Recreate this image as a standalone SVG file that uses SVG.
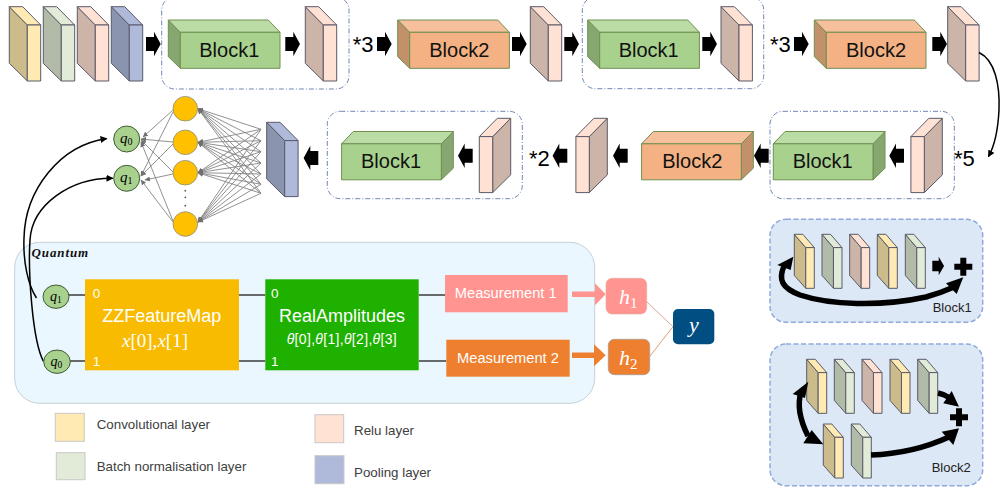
<svg xmlns="http://www.w3.org/2000/svg" width="1001" height="492" viewBox="0 0 1001 492">
<style>
text{font-family:"Liberation Sans",Arial,sans-serif}
.m{font-family:"Liberation Serif","DejaVu Serif",serif;font-style:italic}
.s polygon{stroke:#5a5a68;stroke-width:1;stroke-linejoin:round;vector-effect:non-scaling-stroke}
.b polygon{stroke:#6f8f50;stroke-width:1;stroke-linejoin:round}
.bt{font-size:20px;text-anchor:middle;fill:#111}
.st{font-size:22px;fill:#000}
.d{fill:none;stroke:#5f78ab;stroke-width:.9;stroke-dasharray:5 2 1 2}
.n{stroke:#858585;stroke-width:.9;fill:none;marker-end:url(#sm)}
.o{fill:#ffc000;stroke:#8c8f80;stroke-width:.8}
.q{fill:#a9d18e;stroke:#3d5c34;stroke-width:1}
.cv{fill:none;stroke:#000;stroke-width:1.5;marker-end:url(#bk)}
.th{fill:none;stroke:#000;stroke-width:5.5}
.w{fill:#fff}
.ln{stroke:#3c3c3c;stroke-width:1.3;fill:none}
.lg{font-size:13.33px;fill:#404040}
.sw{stroke:#c9c9c9;stroke-width:1}
.pn{fill:#dce8f5;stroke:#8faadc;stroke-width:1.5;stroke-dasharray:5 2.5}
</style>
<defs>
<marker id="sm" markerWidth="6" markerHeight="6" refX="5" refY="3" orient="auto" markerUnits="userSpaceOnUse"><path d="M0,.5L5.5,3L0,5.5z" fill="#707070"/></marker>
<marker id="bk" markerWidth="9" markerHeight="8" refX="6" refY="3.5" orient="auto" markerUnits="userSpaceOnUse"><path d="M0,0L7,3.5L0,7z" fill="#000"/></marker>
<g id="sc" class="s"><polygon points="0,0 18,18.3 18,74.3 0,56.6" fill="#cdbc8b"/><polygon points="0,0 13.4,0 31.4,18.3 18,18.3" fill="#ffeab3"/><polygon points="18,18.3 31.4,18.3 31.4,74.3 18,74.3" fill="#ffeab3"/></g>
<g id="sg" class="s"><polygon points="0,0 18,18.3 18,74.3 0,56.6" fill="#b2bba8"/><polygon points="0,0 13.4,0 31.4,18.3 18,18.3" fill="#e2ebd7"/><polygon points="18,18.3 31.4,18.3 31.4,74.3 18,74.3" fill="#e2ebd7"/></g>
<g id="sr" class="s"><polygon points="0,0 18,18.3 18,74.3 0,56.6" fill="#ccb5a8"/><polygon points="0,0 13.4,0 31.4,18.3 18,18.3" fill="#ffe2d3"/><polygon points="18,18.3 31.4,18.3 31.4,74.3 18,74.3" fill="#ffe2d3"/></g>
<g id="sp" class="s"><polygon points="0,0 18,18.3 18,74.3 0,56.6" fill="#8b94ae"/><polygon points="0,0 13.4,0 31.4,18.3 18,18.3" fill="#afb9da"/><polygon points="18,18.3 31.4,18.3 31.4,74.3 18,74.3" fill="#afb9da"/></g>
<g id="b1" class="b"><polygon points="0,0 12,12.3 12,48.3 0,36.7" fill="#87a771"/><polygon points="0,0 100,0 111.7,12.3 12,12.3" fill="#bcdca5"/><polygon points="12,12.3 111.7,12.3 111.7,48.3 12,48.3" fill="#a9d18e"/></g>
<g id="b2" class="b"><polygon points="0,0 12,12.3 12,48.3 0,36.7" fill="#c39169"/><polygon points="0,0 100,0 111.7,12.3 12,12.3" fill="#f5c09b"/><polygon points="12,12.3 111.7,12.3 111.7,48.3 12,48.3" fill="#f4b183"/></g>
<path id="ar" d="M0,-7H8V-12.2L14.7,0L8,12.2V7H0z" fill="#000"/>
<path id="pl" d="M-3,-9H3V-3H9V3H3V9H-3V3H-9V-3H-3z" fill="#000"/>
</defs>

<g id="group-boxes">
<rect class="d" x="161.7" y="-3" width="187.3" height="92" rx="13"/>
<rect class="d" x="582.3" y="-3" width="181.4" height="91.7" rx="13"/>
<rect class="d" x="327.3" y="111.3" width="195" height="87.4" rx="13"/>
<rect class="d" x="770" y="111.3" width="184.3" height="87.4" rx="13"/>
</g>

<g id="row1">
<g id="l1"><use href="#sc" x="9.3" y="6.7"/></g>
<g id="l2"><use href="#sg" x="43.3" y="6.7"/></g>
<g id="l3"><use href="#sr" x="77.3" y="6.7"/></g>
<g id="l4"><use href="#sp" x="111.3" y="6.7"/></g>
<g id="block1-a"><use href="#b1" x="168.3" y="20"/><text class="bt" x="229.3" y="57.3">Block1</text></g>
<g id="r1"><use href="#sr" x="305.3" y="6.7"/></g>
<g id="block2-a"><use href="#b2" x="397.7" y="20"/><text class="bt" x="459.3" y="57.3">Block2</text></g>
<g id="r2"><use href="#sr" x="530.3" y="6.7"/></g>
<g id="block1-b"><use href="#b1" x="587.7" y="20"/><text class="bt" x="648.7" y="57.3">Block1</text></g>
<g id="r3"><use href="#sr" x="721" y="6.7"/></g>
<g id="block2-b"><use href="#b2" x="814.3" y="20"/><text class="bt" x="876" y="57.3">Block2</text></g>
<g id="r4"><use href="#sr" x="947.7" y="6.7"/></g>
<text class="st" x="352.7" y="51.7">*3</text>
<text class="st" x="770" y="51.7">*3</text>
</g>

<g id="row2">
<g id="r5"><use href="#sr" transform="translate(942.3,118.3) scale(-1,1)"/></g>
<g id="block1-c"><use href="#b1" transform="translate(885,131.5) scale(-1,1)"/><text class="bt" x="822.7" y="168.3">Block1</text></g>
<g id="block2-c"><use href="#b2" transform="translate(753.3,131.5) scale(-1,1)"/><text class="bt" x="692.3" y="168.3">Block2</text></g>
<g id="r6"><use href="#sr" transform="translate(607.3,118.3) scale(-1,1)"/></g>
<g id="r7"><use href="#sr" transform="translate(510.7,118.3) scale(-1,1)"/></g>
<g id="block1-d"><use href="#b1" transform="translate(453.3,131.5) scale(-1,1)"/><text class="bt" x="391" y="168.3">Block1</text></g>
<g id="pool"><use href="#sp" x="266.7" y="122.3"/></g>
<text class="st" x="954" y="165.7">*5</text>
<text class="st" x="529" y="165.7">*2</text>
</g>

<g id="quantum">
<rect x="14.7" y="242.3" width="580" height="161" rx="25" fill="#ebf7fe" stroke="#c5d0d8"/>
<text x="31.5" y="256.7" font-size="13" font-weight="700" style="font-family:'Liberation Serif',serif;font-style:italic;letter-spacing:.9px" fill="#111">Quantum</text>
</g>

<g id="connectors">
<use href="#ar" x="146" y="44"/><use href="#ar" x="285.3" y="44"/><use href="#ar" x="377" y="44"/><use href="#ar" x="512" y="44"/><use href="#ar" x="564.3" y="44"/><use href="#ar" x="702.3" y="44"/><use href="#ar" x="794" y="44"/><use href="#ar" x="932.3" y="44"/>
<use href="#ar" transform="translate(904,155.7) scale(-1,1)"/><use href="#ar" transform="translate(768.7,155.7) scale(-1,1)"/><use href="#ar" transform="translate(627.7,155.7) scale(-1,1)"/><use href="#ar" transform="translate(567.3,155.7) scale(-1,1)"/><use href="#ar" transform="translate(472.7,155.7) scale(-1,1)"/><use href="#ar" transform="translate(318.3,158) scale(-1,1)"/>
<path class="cv" d="M979,52.5C995,60 1000,85 999,110C998,130 995,145 988.5,156.5"/>
<path class="cv" d="M36.5,298C28,285 23,262 24,238C25,190 60,145 106.5,138.7"/>
<path class="cv" d="M43.5,361.5C32,340 28,270 30,240C32,205 70,178 112.5,178.3"/>
<path class="ln" d="M69,295H85M70,361H85M239,295H265.3M239,361H265.3M418.7,295H445M418.7,361H446.3"/>
<g id="net-lines">
<line class="n" x1="261" y1="129.3" x2="198" y2="108.7"/><line class="n" x1="261" y1="140.7" x2="198" y2="108.7"/><line class="n" x1="261" y1="151.7" x2="198" y2="108.7"/><line class="n" x1="261" y1="163" x2="198" y2="108.7"/><line class="n" x1="261" y1="174" x2="198" y2="108.7"/><line class="n" x1="261" y1="184.3" x2="198" y2="108.7"/><line class="n" x1="261" y1="193.3" x2="198" y2="108.7"/>
<line class="n" x1="261" y1="129.3" x2="198" y2="142.3"/><line class="n" x1="261" y1="140.7" x2="198" y2="142.3"/><line class="n" x1="261" y1="151.7" x2="198" y2="142.3"/><line class="n" x1="261" y1="163" x2="198" y2="142.3"/><line class="n" x1="261" y1="174" x2="198" y2="142.3"/><line class="n" x1="261" y1="184.3" x2="198" y2="142.3"/><line class="n" x1="261" y1="193.3" x2="198" y2="142.3"/>
<line class="n" x1="261" y1="129.3" x2="198" y2="172.7"/><line class="n" x1="261" y1="140.7" x2="198" y2="172.7"/><line class="n" x1="261" y1="151.7" x2="198" y2="172.7"/><line class="n" x1="261" y1="163" x2="198" y2="172.7"/><line class="n" x1="261" y1="174" x2="198" y2="172.7"/><line class="n" x1="261" y1="184.3" x2="198" y2="172.7"/><line class="n" x1="261" y1="193.3" x2="198" y2="172.7"/>
<line class="n" x1="261" y1="129.3" x2="198" y2="222"/><line class="n" x1="261" y1="140.7" x2="198" y2="222"/><line class="n" x1="261" y1="151.7" x2="198" y2="222"/><line class="n" x1="261" y1="163" x2="198" y2="222"/><line class="n" x1="261" y1="174" x2="198" y2="222"/><line class="n" x1="261" y1="184.3" x2="198" y2="222"/><line class="n" x1="261" y1="193.3" x2="198" y2="222"/>
<line class="n" x1="173" y1="110" x2="143" y2="137"/><line class="n" x1="173" y1="142" x2="141" y2="139"/><line class="n" x1="173" y1="172" x2="141" y2="140"/><line class="n" x1="173" y1="221" x2="141" y2="142"/>
<line class="n" x1="173" y1="112" x2="141" y2="176"/><line class="n" x1="173" y1="144" x2="141" y2="176"/><line class="n" x1="173" y1="174" x2="145" y2="180"/><line class="n" x1="173" y1="222" x2="141" y2="180"/>
</g>
</g>

<g id="net">
<circle class="o" cx="185.3" cy="108.7" r="12.3"/><circle class="o" cx="185.3" cy="142.3" r="12.3"/><circle class="o" cx="185.3" cy="172.7" r="12.3"/><circle class="o" cx="185.3" cy="224" r="12.3"/>
<circle cx="185.3" cy="190.7" r=".9" fill="#555"/><circle cx="185.3" cy="197.3" r=".9" fill="#555"/><circle cx="185.3" cy="205.7" r=".9" fill="#555"/>
</g>
<g id="q0-top"><circle class="q" cx="126.7" cy="139" r="13"/><text class="m" x="120" y="143" font-size="15">q<tspan font-size="10" dy="2" font-style="normal">0</tspan></text></g>
<g id="q1-top"><circle class="q" cx="126.7" cy="178.3" r="13"/><text class="m" x="120" y="182" font-size="15">q<tspan font-size="10" dy="2" font-style="normal">1</tspan></text></g>
<g id="q1-q"><ellipse class="q" cx="56" cy="296.7" rx="13" ry="11.7"/><text class="m" x="50" y="300.5" font-size="14">q<tspan font-size="9.5" dy="2" font-style="normal">1</tspan></text></g>
<g id="q0-q"><ellipse class="q" cx="57" cy="361.7" rx="13.3" ry="11.7"/><text class="m" x="50.5" y="365.5" font-size="14">q<tspan font-size="9.5" dy="2" font-style="normal">0</tspan></text></g>
<g id="zz"><rect x="85" y="279.3" width="154" height="91" fill="#f8bb00"/>
<text class="w" x="92.7" y="298.3" font-size="13.5">0</text><text class="w" x="92.7" y="365.7" font-size="13.5">1</text>
<text class="w" x="161.7" y="322.3" font-size="18" text-anchor="middle">ZZFeatureMap</text>
<text class="w m" x="155" y="346.7" font-size="19" text-anchor="middle">x<tspan font-style="normal">[0],</tspan>x<tspan font-style="normal">[1]</tspan></text></g>
<g id="ra"><rect x="265.3" y="279.3" width="153.4" height="91" fill="#1eb100"/>
<text class="w" x="271" y="298.3" font-size="13.5">0</text><text class="w" x="271" y="365.7" font-size="13.5">1</text>
<text class="w" x="342" y="322.3" font-size="18" text-anchor="middle">RealAmplitudes</text>
<text class="w" x="286.7" y="344.3" font-size="14" textLength="110"><tspan font-style="italic">θ</tspan>[0],<tspan font-style="italic">θ</tspan>[1],<tspan font-style="italic">θ</tspan>[2],<tspan font-style="italic">θ</tspan>[3]</text></g>
<g id="m1"><rect x="445" y="275" width="122.7" height="37.3" fill="#ff9490"/><text class="w" x="505.7" y="298.3" font-size="14.67" text-anchor="middle">Measurement 1</text></g>
<g id="m2"><rect x="446.3" y="339.7" width="123.4" height="37" fill="#ee7f2e"/><text class="w" x="508" y="363.3" font-size="14.67" text-anchor="middle">Measurement 2</text></g>
<g id="outs">
<path d="M572,291.6H595V283.3L605.7,294.3L595,305.3V297H572z" fill="#ff9490"/>
<path d="M572,352.6H594V344.3L605.7,355.3L594,366.3V358H572z" fill="#ee7f2e"/>
<path d="M646.7,301.7L673,326.7" stroke="#dba894" fill="none"/><path d="M650,356L673,326.7" stroke="#e0a070" fill="none"/>
</g>
<g id="h1"><rect x="606" y="278.3" width="40.7" height="35.7" rx="6" fill="#ff9490" stroke="#e5a8a0" stroke-width=".6"/><text class="w m" x="619" y="304" font-size="22">h<tspan font-size="15" dy="4" font-style="normal">1</tspan></text></g>
<g id="h2"><rect x="608.3" y="339.3" width="41.4" height="35.4" rx="6" fill="#ee7f2e" stroke="#a89a90" stroke-width=".8"/><text class="w m" x="619" y="365" font-size="22">h<tspan font-size="15" dy="4" font-style="normal">2</tspan></text></g>
<g id="y"><rect x="673" y="309" width="41.3" height="35.3" rx="5" fill="#004e82"/><text class="w m" x="694" y="331.7" font-size="22" text-anchor="middle">y</text></g>

<g id="legend">
<rect class="sw" x="55.3" y="413.3" width="29" height="28" fill="#ffeab3"/><text class="lg" x="96.7" y="429">Convolutional layer</text>
<rect class="sw" x="56.3" y="452.7" width="28.7" height="27" fill="#e2ebd7"/><text class="lg" x="96.7" y="471">Batch normalisation layer</text>
<rect class="sw" x="315" y="414.7" width="28.7" height="28" fill="#ffe2d3"/><text class="lg" x="354" y="435">Relu layer</text>
<rect class="sw" x="315" y="455.7" width="29" height="28" fill="#afb9da"/><text class="lg" x="354" y="476.7">Pooling layer</text>
</g>

<g id="panel-block1">
<rect class="pn" x="770" y="219.3" width="212.7" height="103" rx="16"/>
<use href="#sc" transform="translate(794.3,234.3) scale(.637,.727)"/><use href="#sg" transform="translate(822,234.3) scale(.637,.727)"/><use href="#sr" transform="translate(849.7,234.3) scale(.637,.727)"/><use href="#sc" transform="translate(877.3,234.3) scale(.637,.727)"/><use href="#sg" transform="translate(905.3,234.3) scale(.637,.727)"/>
<use href="#ar" transform="translate(932.3,266) scale(.8,.75)"/>
<use href="#pl" x="963.3" y="266.7"/>
<path class="th" d="M784,266C778,280 782,288 800,295C830,305 880,307 926,297C937,294 945,291 954,287"/>
<polygon points="793.3,256.7 777.3,265 790.7,270"/><polygon points="963.3,277.3 946,283.3 956.7,294"/>
<text x="932.7" y="311.7" font-size="13" fill="#222">Block1</text>
</g>
<g id="panel-block2">
<rect class="pn" x="770" y="344" width="212.7" height="141.7" rx="16"/>
<use href="#sc" transform="translate(806.7,359.3) scale(.637,.727)"/><use href="#sg" transform="translate(834.3,359.3) scale(.637,.727)"/><use href="#sr" transform="translate(862,359.3) scale(.637,.727)"/><use href="#sc" transform="translate(890,359.3) scale(.637,.727)"/><use href="#sg" transform="translate(917.7,359.3) scale(.637,.727)"/>
<use href="#sc" transform="translate(823.3,424) scale(.637,.727)"/><use href="#sg" transform="translate(851.3,424) scale(.637,.727)"/>
<use href="#pl" x="959" y="417.3"/>
<path class="th" d="M801,392C797,405 800,420 808,436"/>
<polygon points="808.3,381.7 792.7,394 805,398"/><polygon points="823.3,444.3 803.3,443.3 811.7,430"/>
<path class="th" d="M938,393C943,394 947,396 950,398"/><polygon points="959,406.7 951.7,391 943.3,403.3"/>
<path class="th" d="M871,455C900,454 925,448 949,437"/><polygon points="959,428.3 941.7,431.7 953.3,445"/>
<text x="931.7" y="471.7" font-size="13" fill="#222">Block2</text>
</g>
</svg>
